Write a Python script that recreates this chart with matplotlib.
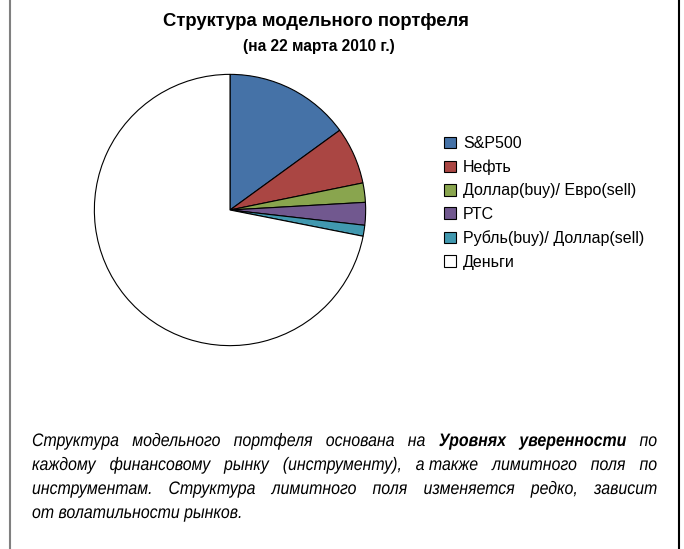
import matplotlib.pyplot as plt
from matplotlib.lines import Line2D
from matplotlib.text import Text
from matplotlib.transforms import Affine2D, Bbox
from matplotlib.patheffects import AbstractPathEffect

labels = ["S&P500", "Нефть", "Доллар(buy)/ Евро(sell)", "РТС",
          "Рубль(buy)/ Доллар(sell)", "Деньги"]
shares = [15.0, 6.8, 2.3, 2.7, 1.3, 71.9]
colors = ["#4572A7", "#AA4643", "#89A54E", "#71588F", "#4198AF", "#FFFFFF"]

title = "Структура модельного портфеля"
subtitle = "(на 22 марта 2010 г.)"

# note text: each line is a list of (word, bold); last line is not justified
note_lines = [
    [("Структура", 0), ("модельного", 0), ("портфеля", 0), ("основана", 0), ("на", 0),
     ("Уровнях", 1), ("уверенности", 1), ("по", 0)],
    [("каждому", 0), ("финансовому", 0), ("рынку", 0), ("(инструменту),", 0),
     ("а также", 0), ("лимитного", 0), ("поля", 0), ("по", 0)],
    [("инструментам.", 0), ("Структура", 0), ("лимитного", 0), ("поля", 0),
     ("изменяется", 0), ("редко,", 0), ("зависит", 0)],
    [("от волатильности рынков.", 0)],
]

SX = 0.88  # horizontal squeeze, stands in for Arial Narrow


class Condense(AbstractPathEffect):
    def draw_path(self, renderer, gc, tpath, affine, rgbFace=None):
        renderer.draw_path(gc, tpath, Affine2D().scale(SX, 1) + affine, rgbFace)


class NarrowText(Text):
    # left-aligned text drawn squeezed; extent reports the squeezed width
    def get_window_extent(self, renderer=None, dpi=None):
        bb = super().get_window_extent(renderer, dpi)
        return Bbox([[bb.x0, bb.y0], [bb.x0 + bb.width * SX, bb.y1]])


plt.rcParams["font.family"] = ["Liberation Sans", "DejaVu Sans"]

W, H = 684, 549
fig = plt.figure(figsize=(W / 100, H / 100), dpi=100)

# frame lines left and right
fig.add_artist(Line2D([9.5 / W, 9.5 / W], [0, 1], color="#808080", lw=1.5))
fig.add_artist(Line2D([678.5 / W, 678.5 / W], [0, 1], color="black", lw=1.5))

fig.text(316 / W, 1 - 22 / H, title, ha="center", va="center",
         fontsize=13.3, fontweight="bold")
fig.text(319 / W, 1 - 47 / H, subtitle, ha="center", va="center",
         fontsize=11.2, fontweight="bold")

cx, cy, r = 230, 210, 137
ax = fig.add_axes([(cx - r) / W, (H - cy - r) / H, 2 * r / W, 2 * r / H])
wedges, _ = ax.pie(shares, colors=colors, startangle=90, counterclock=False,
                   wedgeprops=dict(edgecolor="black", linewidth=0.8))
ax.set_xlim(-1.01, 1.01)
ax.set_ylim(-1.01, 1.01)
ax.set_aspect("equal")
ax.axis("off")

fig.legend(wedges, labels, loc="upper left", bbox_to_anchor=(444 / W, 1 - 136 / H),
           frameon=False, fontsize=11.5, handlelength=0.75, handleheight=0.75,
           handletextpad=0.45, labelspacing=0.53, borderpad=0, borderaxespad=0)

# justified italic note
fs = 13
left, right = 32, 657
baselines = [446, 470, 494, 518]
renderer = fig.canvas.get_renderer()


def make_word(word, y, bold=False):
    t = NarrowText(0, y, word, fontsize=fs, style="italic",
                   fontweight="bold" if bold else "normal", va="baseline", ha="left",
                   transform=fig.transFigure, path_effects=[Condense()])
    fig.add_artist(t)
    return t


for i, line in enumerate(note_lines):
    y = 1 - baselines[i] / H
    arts = [make_word(w, y, b) for w, b in line]
    widths = [t.get_window_extent(renderer).width for t in arts]
    gap = (right - left - sum(widths)) / (len(line) - 1) if len(line) > 1 else 0
    x = left
    for t, w in zip(arts, widths):
        t.set_x(x / W)
        x += w + gap

fig.savefig("out.png", dpi=100, facecolor="white")
